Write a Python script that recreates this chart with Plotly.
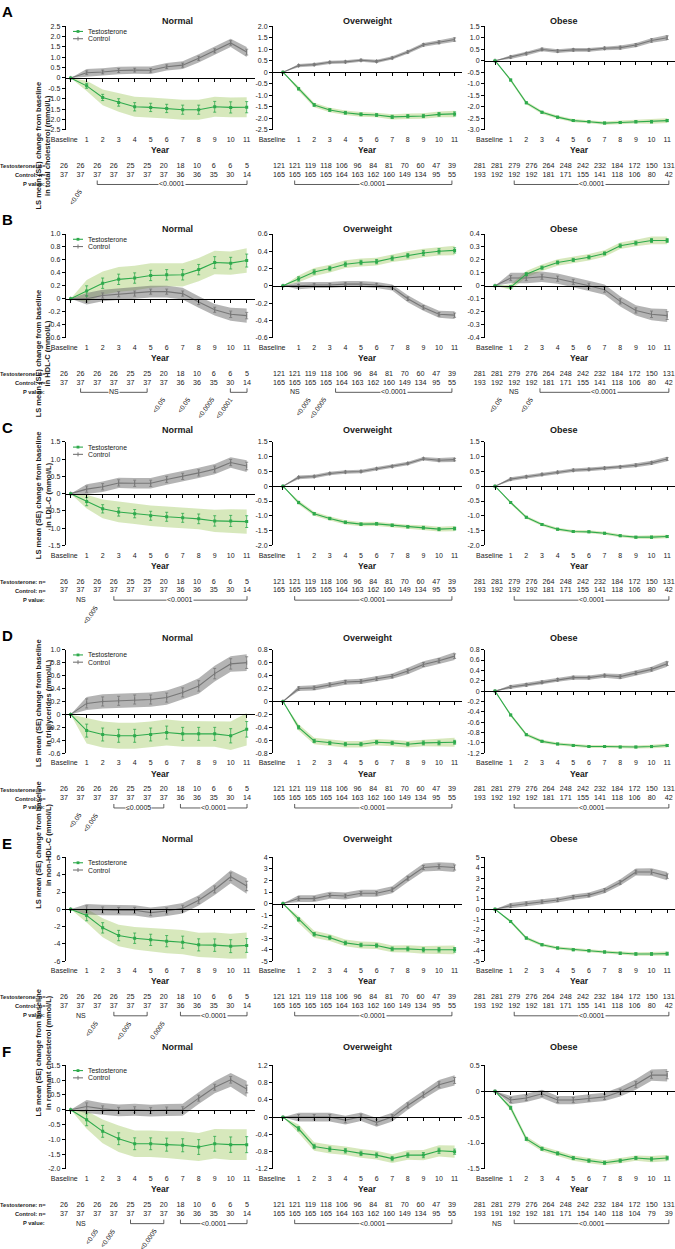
import plotly.graph_objects as go

W, H = 675, 1249
FONT = "Liberation Sans, Arial, sans-serif"
TEXT = "#1a1a1a"
GREEN = "#2eaa4c"
GREY = "#777777"
GREEN_BAND = "rgba(160,200,95,0.42)"
GREY_BAND = "rgba(105,105,105,0.5)"

YEARS = list(range(12))
YEAR_LABELS = ["Baseline"] + [str(y) for y in range(1, 12)]
GROUPS = ["Normal", "Overweight", "Obese"]
LETTERS = ["A", "B", "C", "D", "E", "F"]
Y_TITLES = [
    "in total cholesterol (mmol/L)",
    "in HDL-C (mmol/L)",
    "in LDL-C (mmol/L)",
    "in triglycerides (mmol/L)",
    "in non-HDL-C (mmol/L)",
    "in remnant cholesterol (mmol/L)",
]

# (min, max, step) of the y axis for Normal / Overweight / Obese
Y_AXES = [
    [(-2.5, 2.5, 0.5), (-2.5, 2.0, 0.5), (-3.0, 1.5, 0.5)],
    [(-0.6, 1.0, 0.2), (-0.6, 0.6, 0.2), (-0.4, 0.4, 0.1)],
    [(-1.5, 1.5, 0.5), (-2.0, 1.5, 0.5), (-2.0, 1.5, 0.5)],
    [(-0.6, 1.0, 0.2), (-0.8, 0.8, 0.2), (-1.2, 0.8, 0.2)],
    [(-6, 6, 2), (-5, 4, 1), (-5, 5, 1)],
    [(-2.0, 1.5, 0.5), (-1.2, 1.2, 0.4), (-1.5, 0.5, 0.5)],
]

# ---- total cholesterol (A): [normal, overweight, obese]
tc_t_mean = [
    [0, -0.38, -0.94, -1.18, -1.39, -1.42, -1.47, -1.53, -1.53, -1.39, -1.42, -1.41],
    [0, -0.72, -1.42, -1.64, -1.76, -1.83, -1.86, -1.94, -1.91, -1.90, -1.83, -1.81],
    [0, -0.84, -1.83, -2.24, -2.45, -2.60, -2.65, -2.71, -2.68, -2.65, -2.65, -2.60],
]
tc_t_se = [
    [0, 0.12, 0.15, 0.18, 0.20, 0.20, 0.20, 0.22, 0.22, 0.26, 0.27, 0.27],
    [0, 0.05, 0.06, 0.06, 0.06, 0.06, 0.06, 0.07, 0.07, 0.07, 0.08, 0.09],
    [0, 0.04, 0.04, 0.04, 0.04, 0.04, 0.04, 0.04, 0.04, 0.05, 0.05, 0.05],
]
tc_t_band = [
    [0, 0.25, 0.38, 0.45, 0.48, 0.48, 0.48, 0.48, 0.48, 0.48, 0.48, 0.48],
    [0, 0.10, 0.10, 0.10, 0.10, 0.10, 0.10, 0.11, 0.12, 0.12, 0.13, 0.14],
    [0, 0.07, 0.07, 0.07, 0.07, 0.07, 0.07, 0.07, 0.08, 0.08, 0.09, 0.10],
]
tc_c_mean = [
    [0, 0.25, 0.29, 0.36, 0.38, 0.37, 0.54, 0.62, 0.95, 1.31, 1.69, 1.25],
    [0, 0.29, 0.33, 0.43, 0.45, 0.52, 0.47, 0.62, 0.88, 1.19, 1.30, 1.42],
    [0, 0.16, 0.31, 0.49, 0.42, 0.47, 0.47, 0.54, 0.57, 0.68, 0.88, 1.00],
]
tc_c_se = [
    [0, 0.09, 0.09, 0.09, 0.09, 0.09, 0.09, 0.10, 0.10, 0.10, 0.11, 0.14],
    [0, 0.04, 0.04, 0.04, 0.04, 0.04, 0.04, 0.04, 0.05, 0.05, 0.06, 0.07],
    [0, 0.05, 0.05, 0.05, 0.05, 0.05, 0.05, 0.05, 0.06, 0.06, 0.07, 0.08],
]
tc_c_band = [
    [0, 0.18, 0.18, 0.18, 0.18, 0.18, 0.18, 0.19, 0.20, 0.20, 0.20, 0.24],
    [0, 0.07, 0.07, 0.07, 0.07, 0.07, 0.07, 0.07, 0.08, 0.08, 0.09, 0.10],
    [0, 0.08, 0.08, 0.08, 0.08, 0.08, 0.08, 0.08, 0.09, 0.09, 0.10, 0.12],
]

# ---- HDL-C (B)
hdl_t_mean = [
    [0, 0.12, 0.24, 0.30, 0.32, 0.36, 0.37, 0.37, 0.45, 0.56, 0.55, 0.59],
    [0, 0.08, 0.16, 0.20, 0.25, 0.27, 0.28, 0.32, 0.35, 0.38, 0.40, 0.41],
    [0, -0.01, 0.09, 0.14, 0.18, 0.20, 0.22, 0.25, 0.31, 0.33, 0.35, 0.35],
]
hdl_t_se = [
    [0, 0.08, 0.08, 0.08, 0.08, 0.08, 0.08, 0.08, 0.08, 0.09, 0.09, 0.10],
    [0, 0.025, 0.025, 0.025, 0.025, 0.025, 0.025, 0.025, 0.025, 0.03, 0.03, 0.03],
    [0, 0.012, 0.012, 0.012, 0.012, 0.012, 0.012, 0.012, 0.013, 0.014, 0.015, 0.015],
]
hdl_t_band = [
    [0, 0.17, 0.18, 0.19, 0.19, 0.19, 0.18, 0.18, 0.18, 0.18, 0.18, 0.19],
    [0, 0.04, 0.045, 0.045, 0.045, 0.045, 0.045, 0.045, 0.05, 0.05, 0.05, 0.055],
    [0, 0.02, 0.025, 0.025, 0.025, 0.025, 0.025, 0.025, 0.025, 0.025, 0.03, 0.03],
]
hdl_c_mean = [
    [0, 0.00, 0.05, 0.07, 0.08, 0.11, 0.11, 0.08, -0.05, -0.17, -0.24, -0.26],
    [0, 0.00, 0.01, 0.01, 0.02, 0.02, 0.01, -0.02, -0.15, -0.25, -0.33, -0.34],
    [0, 0.06, 0.06, 0.07, 0.055, 0.03, 0.00, -0.03, -0.12, -0.19, -0.22, -0.23],
]
hdl_c_se = [
    [0, 0.05, 0.04, 0.04, 0.04, 0.04, 0.04, 0.04, 0.04, 0.04, 0.05, 0.05],
    [0, 0.015, 0.015, 0.015, 0.015, 0.015, 0.015, 0.015, 0.02, 0.02, 0.02, 0.025],
    [0, 0.02, 0.02, 0.02, 0.02, 0.02, 0.02, 0.02, 0.02, 0.02, 0.025, 0.03],
]
hdl_c_band = [
    [0, 0.09, 0.09, 0.09, 0.09, 0.09, 0.09, 0.09, 0.09, 0.09, 0.10, 0.11],
    [0, 0.04, 0.035, 0.035, 0.035, 0.035, 0.035, 0.035, 0.04, 0.04, 0.04, 0.045],
    [0, 0.04, 0.04, 0.04, 0.04, 0.04, 0.04, 0.04, 0.04, 0.04, 0.045, 0.05],
]

# ---- LDL-C (C)
ldl_t_mean = [
    [0, -0.23, -0.44, -0.53, -0.58, -0.64, -0.67, -0.70, -0.73, -0.79, -0.79, -0.81],
    [0, -0.55, -0.93, -1.09, -1.22, -1.28, -1.27, -1.32, -1.37, -1.40, -1.45, -1.43],
    [0, -0.55, -1.05, -1.29, -1.45, -1.53, -1.54, -1.59, -1.67, -1.72, -1.72, -1.70],
]
ldl_t_se = [
    [0, 0.12, 0.12, 0.12, 0.12, 0.13, 0.13, 0.13, 0.14, 0.15, 0.16, 0.17],
    [0, 0.04, 0.04, 0.04, 0.04, 0.04, 0.04, 0.04, 0.04, 0.045, 0.05, 0.05],
    [0, 0.03, 0.03, 0.03, 0.03, 0.03, 0.03, 0.03, 0.03, 0.03, 0.035, 0.035],
]
ldl_t_band = [
    [0, 0.20, 0.27, 0.30, 0.30, 0.30, 0.30, 0.30, 0.30, 0.32, 0.34, 0.35],
    [0, 0.07, 0.07, 0.07, 0.07, 0.07, 0.07, 0.07, 0.07, 0.08, 0.08, 0.09],
    [0, 0.05, 0.05, 0.05, 0.05, 0.05, 0.05, 0.05, 0.05, 0.05, 0.06, 0.06],
]
ldl_c_mean = [
    [0, 0.13, 0.20, 0.31, 0.30, 0.30, 0.41, 0.50, 0.60, 0.71, 0.90, 0.80],
    [0, 0.30, 0.33, 0.43, 0.48, 0.50, 0.59, 0.67, 0.77, 0.93, 0.88, 0.90],
    [0, 0.24, 0.32, 0.40, 0.47, 0.54, 0.57, 0.61, 0.65, 0.71, 0.79, 0.92],
]
ldl_c_se = [
    [0, 0.09, 0.09, 0.09, 0.09, 0.09, 0.09, 0.09, 0.09, 0.09, 0.09, 0.11],
    [0, 0.03, 0.03, 0.03, 0.03, 0.03, 0.03, 0.03, 0.03, 0.03, 0.035, 0.04],
    [0, 0.035, 0.035, 0.035, 0.035, 0.035, 0.035, 0.035, 0.035, 0.04, 0.04, 0.045],
]
ldl_c_band = [
    [0, 0.14, 0.15, 0.15, 0.15, 0.15, 0.15, 0.15, 0.15, 0.15, 0.15, 0.17],
    [0, 0.06, 0.06, 0.06, 0.06, 0.06, 0.06, 0.06, 0.06, 0.06, 0.07, 0.08],
    [0, 0.06, 0.06, 0.06, 0.06, 0.06, 0.06, 0.06, 0.06, 0.07, 0.07, 0.08],
]

# ---- triglycerides (D)
tg_t_mean = [
    [0, -0.25, -0.31, -0.33, -0.33, -0.31, -0.28, -0.30, -0.30, -0.30, -0.33, -0.23],
    [0, -0.40, -0.61, -0.64, -0.66, -0.66, -0.63, -0.64, -0.66, -0.64, -0.64, -0.63],
    [0, -0.46, -0.84, -0.97, -1.02, -1.05, -1.07, -1.07, -1.08, -1.08, -1.07, -1.05],
]
tg_t_se = [
    [0, 0.10, 0.10, 0.10, 0.10, 0.10, 0.10, 0.10, 0.10, 0.10, 0.11, 0.12],
    [0, 0.025, 0.025, 0.025, 0.025, 0.025, 0.025, 0.025, 0.025, 0.03, 0.03, 0.03],
    [0, 0.015, 0.015, 0.015, 0.015, 0.015, 0.015, 0.015, 0.015, 0.015, 0.02, 0.02],
]
tg_t_band = [
    [0, 0.20, 0.20, 0.20, 0.20, 0.20, 0.20, 0.20, 0.20, 0.20, 0.22, 0.25],
    [0, 0.05, 0.05, 0.05, 0.05, 0.05, 0.05, 0.05, 0.05, 0.05, 0.06, 0.07],
    [0, 0.03, 0.03, 0.03, 0.03, 0.03, 0.03, 0.03, 0.03, 0.03, 0.035, 0.04],
]
tg_c_mean = [
    [0, 0.17, 0.20, 0.21, 0.23, 0.23, 0.26, 0.34, 0.44, 0.63, 0.78, 0.80],
    [0, 0.20, 0.21, 0.26, 0.30, 0.31, 0.35, 0.39, 0.47, 0.57, 0.63, 0.70],
    [0, 0.08, 0.12, 0.17, 0.22, 0.26, 0.26, 0.30, 0.28, 0.35, 0.42, 0.53],
]
tg_c_se = [
    [0, 0.07, 0.07, 0.07, 0.07, 0.07, 0.07, 0.07, 0.08, 0.08, 0.08, 0.09],
    [0, 0.025, 0.025, 0.025, 0.025, 0.025, 0.025, 0.025, 0.03, 0.03, 0.03, 0.035],
    [0, 0.025, 0.025, 0.025, 0.025, 0.025, 0.025, 0.025, 0.03, 0.03, 0.03, 0.035],
]
tg_c_band = [
    [0, 0.10, 0.11, 0.11, 0.11, 0.11, 0.11, 0.11, 0.12, 0.12, 0.12, 0.13],
    [0, 0.04, 0.04, 0.04, 0.04, 0.04, 0.04, 0.04, 0.05, 0.05, 0.05, 0.06],
    [0, 0.04, 0.04, 0.04, 0.04, 0.04, 0.04, 0.04, 0.05, 0.05, 0.05, 0.06],
]

# ---- non-HDL-C (E)
nh_t_mean = [
    [0, -0.73, -2.15, -3.04, -3.35, -3.54, -3.69, -3.81, -4.12, -4.15, -4.27, -4.19],
    [0, -1.38, -2.67, -2.96, -3.42, -3.60, -3.65, -3.94, -3.94, -4.02, -4.02, -4.02],
    [0, -1.18, -2.78, -3.42, -3.74, -3.90, -4.00, -4.12, -4.25, -4.31, -4.31, -4.28],
]
nh_t_se = [
    [0, 0.60, 0.60, 0.60, 0.60, 0.65, 0.65, 0.70, 0.70, 0.72, 0.75, 0.80],
    [0, 0.15, 0.15, 0.15, 0.15, 0.15, 0.15, 0.16, 0.17, 0.18, 0.19, 0.20],
    [0, 0.10, 0.10, 0.10, 0.10, 0.10, 0.10, 0.10, 0.11, 0.12, 0.13, 0.14],
]
nh_t_band = [
    [0, 0.80, 1.10, 1.25, 1.30, 1.35, 1.40, 1.40, 1.40, 1.45, 1.45, 1.50],
    [0, 0.30, 0.30, 0.30, 0.30, 0.30, 0.30, 0.30, 0.32, 0.34, 0.36, 0.38],
    [0, 0.15, 0.15, 0.15, 0.15, 0.15, 0.15, 0.15, 0.16, 0.17, 0.18, 0.20],
]
nh_c_mean = [
    [0, 0.00, -0.08, -0.12, -0.12, -0.38, -0.19, 0.12, 1.04, 2.30, 3.77, 2.70],
    [0, 0.43, 0.43, 0.72, 0.66, 0.89, 0.89, 1.20, 2.20, 3.13, 3.22, 3.13],
    [0, 0.35, 0.54, 0.73, 0.90, 1.18, 1.37, 1.82, 2.59, 3.60, 3.60, 3.20],
]
nh_c_se = [
    [0, 0.40, 0.35, 0.35, 0.35, 0.35, 0.35, 0.35, 0.35, 0.40, 0.45, 0.55],
    [0, 0.15, 0.15, 0.15, 0.15, 0.15, 0.15, 0.16, 0.17, 0.18, 0.20, 0.22],
    [0, 0.15, 0.15, 0.15, 0.15, 0.15, 0.15, 0.16, 0.17, 0.18, 0.20, 0.22],
]
nh_c_band = [
    [0, 0.60, 0.60, 0.60, 0.60, 0.60, 0.60, 0.60, 0.60, 0.65, 0.75, 0.90],
    [0, 0.30, 0.30, 0.30, 0.30, 0.30, 0.30, 0.30, 0.32, 0.34, 0.37, 0.40],
    [0, 0.25, 0.25, 0.25, 0.25, 0.25, 0.25, 0.27, 0.30, 0.33, 0.36, 0.40],
]

# ---- remnant cholesterol (F)
rc_t_mean = [
    [0, -0.34, -0.73, -0.98, -1.15, -1.15, -1.18, -1.20, -1.26, -1.15, -1.18, -1.18],
    [0, -0.27, -0.68, -0.74, -0.78, -0.84, -0.88, -0.96, -0.88, -0.88, -0.78, -0.80],
    [0, -0.32, -0.92, -1.11, -1.20, -1.29, -1.34, -1.38, -1.34, -1.29, -1.31, -1.29],
]
rc_t_se = [
    [0, 0.20, 0.20, 0.20, 0.20, 0.20, 0.22, 0.22, 0.25, 0.25, 0.26, 0.27],
    [0, 0.05, 0.05, 0.05, 0.05, 0.05, 0.05, 0.05, 0.05, 0.06, 0.06, 0.06],
    [0, 0.03, 0.03, 0.03, 0.03, 0.03, 0.03, 0.03, 0.03, 0.03, 0.035, 0.035],
]
rc_t_band = [
    [0, 0.30, 0.40, 0.45, 0.45, 0.45, 0.45, 0.47, 0.47, 0.50, 0.52, 0.52],
    [0, 0.10, 0.10, 0.10, 0.10, 0.10, 0.10, 0.10, 0.11, 0.12, 0.13, 0.14],
    [0, 0.05, 0.05, 0.05, 0.05, 0.05, 0.05, 0.05, 0.05, 0.05, 0.06, 0.06],
]
rc_c_mean = [
    [0, 0.11, 0.03, -0.02, 0.00, -0.03, -0.01, 0.00, 0.39, 0.76, 1.01, 0.70],
    [0, 0.00, 0.00, 0.00, -0.07, 0.01, -0.12, 0.00, 0.27, 0.52, 0.75, 0.85],
    [0, -0.17, -0.13, -0.05, -0.17, -0.17, -0.14, -0.11, -0.01, 0.13, 0.31, 0.31],
]
rc_c_se = [
    [0, 0.12, 0.10, 0.10, 0.10, 0.10, 0.10, 0.10, 0.10, 0.10, 0.11, 0.13],
    [0, 0.06, 0.06, 0.06, 0.06, 0.06, 0.06, 0.06, 0.06, 0.06, 0.07, 0.07],
    [0, 0.05, 0.05, 0.05, 0.05, 0.05, 0.05, 0.05, 0.05, 0.06, 0.06, 0.07],
]
rc_c_band = [
    [0, 0.22, 0.20, 0.20, 0.20, 0.20, 0.20, 0.20, 0.20, 0.20, 0.23, 0.27],
    [0, 0.10, 0.10, 0.10, 0.10, 0.10, 0.10, 0.10, 0.10, 0.10, 0.11, 0.12],
    [0, 0.08, 0.08, 0.08, 0.08, 0.08, 0.08, 0.08, 0.09, 0.10, 0.11, 0.12],
]

OUTCOMES = [
    (tc_t_mean, tc_t_se, tc_t_band, tc_c_mean, tc_c_se, tc_c_band),
    (hdl_t_mean, hdl_t_se, hdl_t_band, hdl_c_mean, hdl_c_se, hdl_c_band),
    (ldl_t_mean, ldl_t_se, ldl_t_band, ldl_c_mean, ldl_c_se, ldl_c_band),
    (tg_t_mean, tg_t_se, tg_t_band, tg_c_mean, tg_c_se, tg_c_band),
    (nh_t_mean, nh_t_se, nh_t_band, nh_c_mean, nh_c_se, nh_c_band),
    (rc_t_mean, rc_t_se, rc_t_band, rc_c_mean, rc_c_se, rc_c_band),
]

# numbers of patients
N_T_NORMAL = [26, 26, 26, 26, 25, 25, 20, 18, 10, 6, 6, 5]
N_C_NORMAL = [37, 37, 37, 37, 37, 37, 37, 36, 36, 35, 30, 14]
N_T_OVER = [121, 121, 119, 118, 106, 96, 84, 81, 70, 60, 47, 39]
N_C_OVER = [165, 165, 165, 165, 164, 163, 162, 160, 149, 134, 95, 55]
N_T_OBESE = [281, 281, 279, 276, 264, 248, 242, 232, 184, 172, 150, 131]
N_C_OBESE = [193, 192, 192, 192, 181, 171, 155, 141, 118, 106, 80, 42]
N_C_OBESE_RC = [193, 191, 192, 192, 181, 171, 154, 140, 118, 104, 79, 39]
N_T = [N_T_NORMAL, N_T_OVER, N_T_OBESE]
N_C_ROWS = [[N_C_NORMAL, N_C_OVER, N_C_OBESE]] * 5 + [[N_C_NORMAL, N_C_OVER, N_C_OBESE_RC]]

# p values: ("b", from, to, label) bracket, ("t", year, label) plain, ("r", year, label) slanted
P_VALUES = [
    [[("r", 1, "<0.05"), ("b", 2, 11, "<0.0001")],
     [("b", 1, 11, "<0.0001")],
     [("b", 2, 11, "<0.0001")]],
    [[("b", 1, 5, "NS"), ("r", 6, "<0.05"), ("r", 7.5, "<0.05"), ("r", 9, "<0.0005"),
      ("b", 10, 11, ""), ("r", 10.1, "<0.0001")],
     [("t", 1, "NS"), ("r", 2, "<0.005"), ("r", 3, "<0.0005"), ("b", 3.6, 11, "<0.0001")],
     [("r", 1.2, "<0.05"), ("t", 2, "NS"), ("r", 3, "<0.05"), ("b", 3.5, 11, "<0.0001")]],
    [[("t", 1, "NS"), ("r", 2, "<0.005"), ("b", 3, 11, "<0.0001")],
     [("b", 1, 11, "<0.0001")],
     [("b", 2, 11, "<0.0001")]],
    [[("r", 1, "<0.05"), ("r", 2, "<0.005"), ("b", 3, 6, "\u22640.0005"), ("b", 7, 11, "<0.0001")],
     [("b", 1, 11, "<0.0001")],
     [("b", 2, 11, "<0.0001")]],
    [[("t", 1, "NS"), ("r", 2, "<0.05"), ("b", 3, 5, ""), ("r", 4, "<0.005"),
      ("r", 6, "0.0005"), ("b", 7, 11, "<0.0001")],
     [("b", 1, 11, "<0.0001")],
     [("b", 2, 11, "<0.0001")]],
    [[("t", 1, "NS"), ("r", 2, "<0.05"), ("r", 3, "<0.005"), ("b", 4, 6, ""), ("r", 5.5, "<0.0005"),
      ("b", 7, 11, "<0.0001")],
     [("b", 1, 11, "<0.0001")],
     [("t", 1, "NS"), ("b", 2, 11, "<0.0001")]],
]

# ---- layout in pixels
ROW_STEP = 209
CHART_TOP, CHART_BOTTOM = 22.3, 126.5
TABLE_TOP, TABLE_H = 131, 72          # table area under each chart (tick labels, Year, counts)
ROW_TICK, ROW_YEAR, ROW_T, ROW_C, ROW_P = 6, 16, 32, 41, 50
X_DOM_PX = [(65.7, 254.7), (273, 462.4), (485, 675)]
X_RANGES = [(-0.31, 11.5), (-0.64, 11.5), (-0.64, 11.5)]
TABLE_EXT = 2.0                       # table axes reach further left so the first column is kept
BASELINE_SHIFT = [-0.4, -0.7, -0.35]
TABLE_COLS = [(-0.42, 1.04), (-0.26, 1.008), (-0.97, 1.098)]


def ticks_for(lo, hi, step):
    n = int(round((hi - lo) / step))
    vals = [round(lo + k * step, 4) for k in range(n + 1)]
    dec = 0 if step >= 1 else 1
    return vals, ["0" if abs(v) < 1e-9 else f"{v:.{dec}f}" for v in vals]


def ref(letter, n):
    return letter if n == 1 else f"{letter}{n}"


def key(letter, n):
    return f"{letter}axis" if n == 1 else f"{letter}axis{n}"


def py(p):
    return 1 - p / H


def f(size, bold=False, color=TEXT):
    return dict(family=FONT, size=size, color=color, weight="bold" if bold else "normal")


fig = go.Figure()
axes = {}
annotations = []
shapes = []
n_ax = 0
skip = dict(hoverinfo="skip", showlegend=False)

for i in range(6):
    r0 = ROW_STEP * i
    top, bottom = r0 + CHART_TOP, r0 + CHART_BOTTOM
    t_mean, t_se, t_band, c_mean, c_se, c_band = OUTCOMES[i]

    annotations.append(dict(text=f"<b>{LETTERS[i]}</b>", x=0, y=py(r0 + 8), xref="paper", yref="paper",
                            xanchor="left", yanchor="middle", showarrow=False, font=f(15, True, "black")))
    annotations.append(dict(text="LS mean (SE) change from baseline<br>" + Y_TITLES[i],
                            x=32 / W, y=py((top + bottom) / 2 + 2), xref="paper", yref="paper",
                            textangle=-90, showarrow=False, font=f(7.5, True)))
    for txt, xa, anc, yy in (("Testosterone: n=", 48, "right", ROW_T), ("Control: n=", 48, "right", ROW_C),
                             ("P value:", 21, "left", ROW_P)):
        annotations.append(dict(text=txt, x=xa / W, y=py(r0 + TABLE_TOP + yy), xref="paper", yref="paper",
                                xanchor=anc, yanchor="middle", showarrow=False, font=f(5.7, True)))

    # legend key inside the Normal panel
    for k, (name, color) in enumerate((("Testosterone", GREEN), ("Control", GREY))):
        ly = py(top + 5.3 + 7.3 * k)
        shapes.append(dict(type="line", xref="paper", yref="paper", x0=73 / W, x1=83 / W, y0=ly, y1=ly,
                           line=dict(color=color, width=1.1)))
        if k == 0:
            shapes.append(dict(type="rect", xref="paper", yref="paper", x0=76.6 / W, x1=79.4 / W,
                               y0=ly - 1.4 / H, y1=ly + 1.4 / H, fillcolor=color, line=dict(width=0)))
        else:
            shapes.append(dict(type="line", xref="paper", yref="paper", x0=78 / W, x1=78 / W,
                               y0=ly - 2 / H, y1=ly + 2 / H, line=dict(color=color, width=1)))
        annotations.append(dict(text=name, x=86 / W, y=ly, xref="paper", yref="paper", xanchor="left",
                                yanchor="middle", showarrow=False, font=f(6.8)))

    for j, group in enumerate(GROUPS):
        x0px, x1px = X_DOM_PX[j]
        xdom = [x0px / W, x1px / W]
        x_lo, x_hi = X_RANGES[j]
        ppu = (x1px - x0px) / (x_hi - x_lo)
        lo, hi, step = Y_AXES[i][j]
        tickvals, ticktext = ticks_for(lo, hi, step)
        frac = (0 - lo) / (hi - lo)
        xmid = (x0px + x1px) / 2 / W

        annotations.append(dict(text=f"<b>{group}</b>", x=xmid, y=py(r0 + 10.5), xref="paper", yref="paper",
                                showarrow=False, font=f(9, True)))

        # chart subplot
        n_ax += 1
        cx, cy = ref("x", n_ax), ref("y", n_ax)
        for mean, band, color in ((t_mean[j], t_band[j], GREEN_BAND), (c_mean[j], c_band[j], GREY_BAND)):
            fig.add_trace(go.Scatter(x=YEARS, y=[m - b for m, b in zip(mean, band)], mode="lines",
                                     line=dict(width=0), xaxis=cx, yaxis=cy, **skip))
            fig.add_trace(go.Scatter(x=YEARS, y=[m + b for m, b in zip(mean, band)], mode="lines",
                                     line=dict(width=0), fill="tonexty", fillcolor=color,
                                     xaxis=cx, yaxis=cy, **skip))
        fig.add_trace(go.Scatter(x=YEARS, y=c_mean[j], mode="lines+markers",
                                 line=dict(color=GREY, width=1.1),
                                 marker=dict(symbol="line-ns", size=3, color=GREY, line=dict(width=1, color=GREY)),
                                 error_y=dict(type="data", array=c_se[j], thickness=0.8, width=1.5, color=GREY),
                                 xaxis=cx, yaxis=cy, **skip))
        fig.add_trace(go.Scatter(x=YEARS, y=t_mean[j], mode="lines+markers",
                                 line=dict(color=GREEN, width=1.1),
                                 marker=dict(symbol="square", size=3, color=GREEN),
                                 error_y=dict(type="data", array=t_se[j], thickness=0.8, width=1.5, color=GREEN),
                                 xaxis=cx, yaxis=cy, **skip))
        # x axis runs along y = 0 with its ticks hanging below
        axes[key("x", n_ax)] = dict(
            domain=xdom, range=[x_lo, x_hi], anchor="free",
            position=(H - bottom) / H + frac * (bottom - top) / H,
            showline=True, linecolor="black", linewidth=1, ticks="outside", ticklen=3, tickwidth=1,
            tickcolor="black", tickvals=YEARS, showticklabels=False,
            showgrid=False, zeroline=False, fixedrange=True)
        axes[key("y", n_ax)] = dict(
            domain=[(H - bottom) / H, (H - top) / H], range=[lo, hi], anchor=cx,
            showline=True, linecolor="black", linewidth=1, ticks="outside", ticklen=3, tickwidth=1,
            tickcolor="black", tickvals=tickvals, ticktext=ticktext, tickfont=f(7),
            showgrid=False, zeroline=False, fixedrange=True)

        # table subplot: year labels, "Year", counts and p values (same scale as the chart)
        n_ax += 1
        tx, ty = ref("x", n_ax), ref("y", n_ax)
        label_x = [k + (BASELINE_SHIFT[j] if k == 0 else 0) for k in YEARS]
        fig.add_trace(go.Scatter(x=label_x, y=[ROW_TICK] * len(YEARS), mode="text", text=YEAR_LABELS,
                                 textfont=f(7), cliponaxis=False, xaxis=tx, yaxis=ty, **skip))
        annotations.append(dict(text="<b>Year</b>", x=(x_lo + x_hi) / 2, y=ROW_YEAR,
                                xref=tx, yref=ty, showarrow=False, font=f(8.5, True)))
        a, b = TABLE_COLS[j]
        cols = [a + b * k for k in YEARS]
        for row_y, counts in ((ROW_T, N_T[j]), (ROW_C, N_C_ROWS[i][j])):
            fig.add_trace(go.Scatter(x=cols, y=[row_y] * len(cols), mode="text",
                                     text=[str(v) for v in counts], textfont=f(7.2),
                                     cliponaxis=False, xaxis=tx, yaxis=ty, **skip))
        for item in P_VALUES[i][j]:
            if item[0] == "b":
                _, k0, k1, label = item
                xa, xb = a + b * k0, a + b * k1
                fig.add_trace(go.Scatter(x=[xa, xa, xb, xb], y=[ROW_P - 3.5, ROW_P + 0.5, ROW_P + 0.5, ROW_P - 3.5],
                                         mode="lines", line=dict(color="#333333", width=0.8),
                                         cliponaxis=False, xaxis=tx, yaxis=ty, **skip))
                if label:
                    annotations.append(dict(text=label, x=(xa + xb) / 2, y=ROW_P, xref=tx, yref=ty,
                                            showarrow=False, bgcolor="white", borderpad=0, font=f(7)))
            elif item[0] == "t":
                annotations.append(dict(text=item[2], x=a + b * item[1], y=ROW_P, xref=tx, yref=ty,
                                        showarrow=False, font=f(7)))
            else:
                annotations.append(dict(text=item[2], x=a + b * (item[1] + 0.3), y=ROW_P + 1.5,
                                        xref=tx, yref=ty, xanchor="right", yanchor="top",
                                        textangle=-55, showarrow=False, font=f(6.6)))
        axes[key("x", n_ax)] = dict(domain=[(x0px - TABLE_EXT * ppu) / W, x1px / W],
                                    range=[x_lo - TABLE_EXT, x_hi], anchor=ty, visible=False,
                                    fixedrange=True)
        axes[key("y", n_ax)] = dict(domain=[max(0, (H - (r0 + TABLE_TOP + TABLE_H)) / H),
                                            (H - (r0 + TABLE_TOP)) / H],
                                    range=[TABLE_H, 0], anchor=tx, visible=False, fixedrange=True)

fig.update_layout(
    width=W, height=H, margin=dict(l=0, r=0, t=0, b=0),
    paper_bgcolor="white", plot_bgcolor="rgba(0,0,0,0)", showlegend=False,
    font=dict(family=FONT, color=TEXT), annotations=annotations, shapes=shapes, **axes)

fig.write_html("out.html", config={"displayModeBar": False},
               post_script="document.body.style.margin='0';")
